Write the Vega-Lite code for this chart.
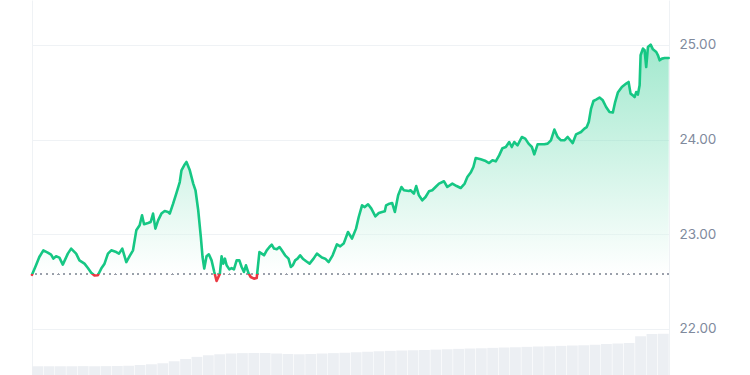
{
  "$schema": "https://vega.github.io/schema/vega-lite/v6.json",
  "width": 637,
  "height": 375,
  "padding": {"left": 30, "top": 0, "right": 0, "bottom": 0},
  "background": "#ffffff",
  "config": {"view": {"stroke": null}},
  "datasets": {
    "price": [
      {"t":0,"p":22.572},{"t":1.06,"p":22.673},{"t":1.93,"p":22.76},{"t":2.99,"p":22.831},{"t":4.15,"p":22.807},{"t":5.03,"p":22.786},{"t":5.64,"p":22.743},{"t":6.35,"p":22.768},{"t":7.22,"p":22.754},{"t":8.12,"p":22.68},{"t":9.45,"p":22.796},{"t":10.32,"p":22.849},{"t":11.64,"p":22.796},{"t":12.51,"p":22.725},{"t":13.84,"p":22.69},{"t":14.74,"p":22.644},{"t":15.61,"p":22.595},{"t":16.48,"p":22.565},{"t":17.38,"p":22.568},{"t":18.26,"p":22.638},{"t":19.13,"p":22.69},{"t":20.03,"p":22.796},{"t":20.9,"p":22.831},{"t":22.22,"p":22.813},{"t":22.94,"p":22.796},{"t":23.81,"p":22.849},{"t":24.87,"p":22.707},{"t":25.74,"p":22.77},{"t":26.64,"p":22.831},{"t":27.51,"p":23.042},{"t":28.39,"p":23.095},{"t":29.02,"p":23.201},{"t":29.55,"p":23.106},{"t":30.61,"p":23.119},{"t":31.3,"p":23.13},{"t":31.93,"p":23.219},{"t":32.54,"p":23.06},{"t":33.26,"p":23.148},{"t":34.13,"p":23.219},{"t":35.0,"p":23.246},{"t":35.9,"p":23.236},{"t":36.33,"p":23.219},{"t":37.22,"p":23.324},{"t":38.09,"p":23.436},{"t":38.97,"p":23.552},{"t":39.42,"p":23.676},{"t":40.14,"p":23.729},{"t":40.74,"p":23.764},{"t":41.62,"p":23.676},{"t":42.52,"p":23.536},{"t":43.12,"p":23.465},{"t":43.84,"p":23.254},{"t":44.53,"p":22.971},{"t":44.98,"p":22.76},{"t":45.43,"p":22.638},{"t":46.03,"p":22.768},{"t":46.64,"p":22.789},{"t":47.36,"p":22.725},{"t":48.07,"p":22.602},{"t":48.68,"p":22.507},{"t":49.55,"p":22.585},{"t":50.0,"p":22.768},{"t":50.45,"p":22.69},{"t":50.88,"p":22.743},{"t":51.33,"p":22.673},{"t":52.04,"p":22.63},{"t":52.65,"p":22.644},{"t":53.26,"p":22.63},{"t":53.97,"p":22.725},{"t":54.69,"p":22.725},{"t":55.29,"p":22.655},{"t":55.9,"p":22.602},{"t":56.43,"p":22.673},{"t":57.07,"p":22.592},{"t":57.68,"p":22.549},{"t":58.55,"p":22.532},{"t":59.26,"p":22.538},{"t":59.98,"p":22.813},{"t":60.59,"p":22.796},{"t":61.19,"p":22.778},{"t":61.91,"p":22.831},{"t":62.62,"p":22.866},{"t":63.23,"p":22.891},{"t":63.84,"p":22.849},{"t":64.55,"p":22.842},{"t":65.27,"p":22.866},{"t":65.88,"p":22.831},{"t":66.75,"p":22.778},{"t":67.65,"p":22.743},{"t":68.26,"p":22.655},{"t":68.79,"p":22.673},{"t":69.4,"p":22.725},{"t":70.03,"p":22.743},{"t":70.72,"p":22.778},{"t":71.43,"p":22.743},{"t":72.31,"p":22.715},{"t":73.21,"p":22.69},{"t":74.26,"p":22.743},{"t":75.14,"p":22.796},{"t":76.46,"p":22.754},{"t":77.33,"p":22.743},{"t":78.23,"p":22.707},{"t":79.29,"p":22.778},{"t":80.43,"p":22.894},{"t":81.3,"p":22.873},{"t":82.2,"p":22.902},{"t":83.34,"p":23.024},{"t":84.4,"p":22.955},{"t":85.46,"p":23.06},{"t":86.17,"p":23.183},{"t":87.04,"p":23.306},{"t":87.76,"p":23.288},{"t":88.63,"p":23.317},{"t":89.5,"p":23.271},{"t":90.56,"p":23.19},{"t":91.46,"p":23.225},{"t":92.33,"p":23.236},{"t":93.05,"p":23.243},{"t":93.39,"p":23.306},{"t":94.27,"p":23.324},{"t":94.98,"p":23.331},{"t":95.7,"p":23.236},{"t":96.57,"p":23.412},{"t":97.44,"p":23.5},{"t":98.08,"p":23.465},{"t":99.4,"p":23.457},{"t":99.82,"p":23.465},{"t":100.72,"p":23.43},{"t":101.33,"p":23.51},{"t":102.04,"p":23.412},{"t":102.92,"p":23.359},{"t":103.79,"p":23.394},{"t":104.69,"p":23.454},{"t":105.56,"p":23.465},{"t":106.44,"p":23.5},{"t":107.34,"p":23.536},{"t":108.66,"p":23.56},{"t":109.53,"p":23.5},{"t":110.86,"p":23.536},{"t":111.99,"p":23.51},{"t":113.05,"p":23.489},{"t":114.11,"p":23.536},{"t":114.82,"p":23.605},{"t":115.7,"p":23.652},{"t":116.41,"p":23.711},{"t":117.02,"p":23.806},{"t":118.34,"p":23.792},{"t":119.66,"p":23.774},{"t":120.56,"p":23.753},{"t":121.44,"p":23.782},{"t":122.31,"p":23.771},{"t":123.21,"p":23.834},{"t":124.08,"p":23.91},{"t":124.96,"p":23.922},{"t":125.86,"p":23.975},{"t":126.54,"p":23.922},{"t":127.18,"p":23.975},{"t":128.05,"p":23.94},{"t":129.19,"p":24.028},{"t":130.09,"p":24.011},{"t":130.96,"p":23.958},{"t":131.84,"p":23.922},{"t":132.47,"p":23.845},{"t":133.34,"p":23.951},{"t":134.22,"p":23.951},{"t":135.12,"p":23.951},{"t":135.99,"p":23.958},{"t":136.86,"p":23.993},{"t":137.76,"p":24.106},{"t":138.63,"p":24.028},{"t":139.51,"p":23.993},{"t":140.41,"p":23.993},{"t":141.28,"p":24.028},{"t":142.61,"p":23.964},{"t":143.48,"p":24.056},{"t":144.8,"p":24.081},{"t":145.7,"p":24.117},{"t":146.31,"p":24.133},{"t":146.84,"p":24.186},{"t":147.45,"p":24.328},{"t":148.08,"p":24.408},{"t":148.77,"p":24.423},{"t":149.67,"p":24.444},{"t":150.54,"p":24.415},{"t":151.41,"p":24.345},{"t":152.31,"p":24.292},{"t":153.19,"p":24.286},{"t":153.8,"p":24.397},{"t":154.51,"p":24.497},{"t":155.57,"p":24.556},{"t":156.71,"p":24.592},{"t":157.34,"p":24.609},{"t":157.87,"p":24.486},{"t":158.48,"p":24.468},{"t":158.93,"p":24.45},{"t":159.35,"p":24.503},{"t":159.8,"p":24.476},{"t":160.25,"p":24.574},{"t":160.51,"p":24.891},{"t":161.12,"p":24.962},{"t":161.57,"p":24.944},{"t":161.99,"p":24.767},{"t":162.44,"p":24.978},{"t":163.16,"p":25.004},{"t":163.76,"p":24.954},{"t":164.64,"p":24.926},{"t":165.09,"p":24.891},{"t":165.54,"p":24.838},{"t":166.15,"p":24.856},{"t":166.86,"p":24.862},{"t":167.92,"p":24.862}
    ],
    "volume": [
      {"t":1.5,"v":0.70},{"t":4.5,"v":0.71},{"t":7.5,"v":0.70},{"t":10.5,"v":0.70},{"t":13.5,"v":0.71},{"t":16.5,"v":0.70},{"t":19.5,"v":0.71},{"t":22.5,"v":0.72},{"t":25.5,"v":0.74},{"t":28.5,"v":0.80},{"t":31.5,"v":0.86},{"t":34.5,"v":0.95},{"t":37.5,"v":1.10},{"t":40.5,"v":1.28},{"t":43.5,"v":1.45},{"t":46.5,"v":1.58},{"t":49.5,"v":1.66},{"t":52.5,"v":1.72},{"t":55.5,"v":1.75},{"t":58.5,"v":1.76},{"t":61.5,"v":1.76},{"t":64.5,"v":1.72},{"t":67.5,"v":1.68},{"t":70.5,"v":1.66},{"t":73.5,"v":1.68},{"t":76.5,"v":1.72},{"t":79.5,"v":1.75},{"t":82.5,"v":1.78},{"t":85.5,"v":1.82},{"t":88.5,"v":1.86},{"t":91.5,"v":1.90},{"t":94.5,"v":1.93},{"t":97.5,"v":1.96},{"t":100.5,"v":1.98},{"t":103.5,"v":2.00},{"t":106.5,"v":2.03},{"t":109.5,"v":2.06},{"t":112.5,"v":2.09},{"t":115.5,"v":2.12},{"t":118.5,"v":2.14},{"t":121.5,"v":2.17},{"t":124.5,"v":2.20},{"t":127.5,"v":2.22},{"t":130.5,"v":2.25},{"t":133.5,"v":2.28},{"t":136.5,"v":2.30},{"t":139.5,"v":2.33},{"t":142.5,"v":2.36},{"t":145.5,"v":2.38},{"t":148.5,"v":2.42},{"t":151.5,"v":2.48},{"t":154.5,"v":2.52},{"t":157.5,"v":2.56},{"t":160.5,"v":3.10},{"t":163.5,"v":3.28},{"t":166.5,"v":3.30}
    ]
  },
  "layer": [
    {
      "data": {"name": "volume"},
      "mark": {"type": "bar", "width": 10.8, "color": "#eceff3"},
      "encoding": {
        "x": {"field": "t", "type": "quantitative", "scale": {"domain": [0, 168], "nice": false, "zero": false, "padding": 0}, "axis": null},
        "y": {"field": "v", "type": "quantitative", "scale": {"domain": [0, 30], "nice": false},
          "axis": {"orient": "left", "labels": false, "ticks": false, "grid": false, "title": null, "domain": true, "domainColor": "#eff2f5", "domainWidth": 1}}
      }
    },
    {
      "data": {"name": "price"},
      "layer": [
        {
          "mark": {"type": "area", "interpolate": "linear", "fillOpacity": 0.4,
            "fill": {"gradient": "linear", "x1": 0, "y1": 0, "x2": 0, "y2": 1,
              "stops": [{"offset": 0, "color": "#16c784"}, {"offset": 0.97, "color": "#ffffff"}, {"offset": 1, "color": "#ffffff"}]}},
          "encoding": {
            "x": {"field": "t", "type": "quantitative"},
            "y": {"field": "p", "type": "quantitative", "scale": {"domain": [21.514, 25.475], "nice": false, "zero": false},
              "axis": {"orient": "right", "values": [22, 23, 24, 25], "format": ".2f", "title": null, "grid": true, "gridColor": "#eff2f5", "gridWidth": 1,
                "domain": true, "domainColor": "#eff2f5", "ticks": false, "labelPadding": 10, "labelColor": "#808a9d", "labelFontSize": 13.5, "labelFont": "Inter"}},
            "y2": {"datum": 22.577}
          }
        },
        {
          "mark": {"type": "rule", "strokeDash": [1.2, 4.5], "strokeWidth": 1.2, "color": "#9aa0aa"},
          "encoding": {"y": {"datum": 22.577}}
        },
        {
          "mark": {"type": "line", "interpolate": "linear", "strokeWidth": 2.6, "strokeJoin": "round", "strokeCap": "round",
            "stroke": {"gradient": "linear", "x1": 0, "y1": 0, "x2": 0, "y2": 1,
              "stops": [{"offset": 0, "color": "#16c784"}, {"offset": 0.972, "color": "#16c784"}, {"offset": 0.972, "color": "#ea3943"}, {"offset": 1, "color": "#ea3943"}]}},
          "encoding": {
            "x": {"field": "t", "type": "quantitative"},
            "y": {"field": "p", "type": "quantitative"}
          }
        }
      ]
    }
  ],
  "resolve": {"scale": {"y": "independent"}, "axis": {"y": "independent"}}
}
